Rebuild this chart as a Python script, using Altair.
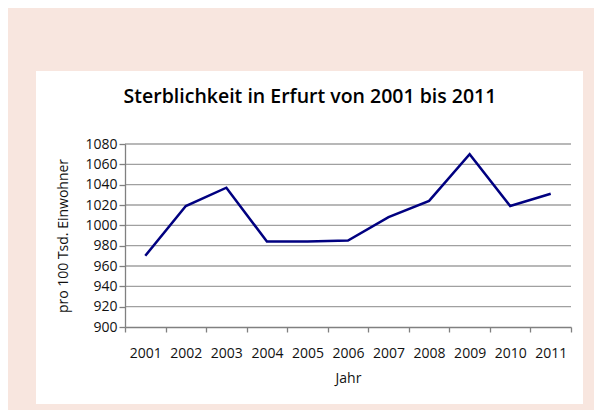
import altair as alt
import pandas as pd

years = ["2001", "2002", "2003", "2004", "2005", "2006", "2007", "2008", "2009", "2010", "2011"]
deaths = [970, 1019, 1037, 984, 984, 985, 1008, 1024, 1070, 1019, 1031]
y_ticks = [900, 920, 940, 960, 980, 1000, 1020, 1040, 1060, 1080]

df = pd.DataFrame({"Jahr": years, "Wert": deaths})
grid_df = pd.DataFrame({"Wert": y_ticks[1:]})

FONT = "Open Sans"
W, H = 446, 183

y_scale = alt.Scale(domain=[900, 1080], nice=False, zero=False)
y_axis = alt.Axis(
    title="pro 100 Tsd. Einwohner", values=y_ticks, grid=False, format="d",
    labelOverlap=False, tickSize=6, labelPadding=2, titlePadding=14, zindex=2,
)

panel = alt.Chart(alt.Data(values=[{"a": 1}])).mark_rect(color="white").encode(
    x=alt.value(-89), x2=alt.value(458), y=alt.value(-73), y2=alt.value(260)
)

grid = alt.Chart(grid_df).mark_rule(color="#a0a0a0", strokeWidth=1.3).encode(
    y=alt.Y("Wert:Q", scale=y_scale, axis=y_axis)
)

line = alt.Chart(df).mark_line(color="#000080", strokeWidth=2.5).encode(
    x=alt.X(
        "Jahr:O",
        sort=years,
        scale=alt.Scale(type="band", paddingInner=0, paddingOuter=0),
        axis=alt.Axis(
            title="Jahr", labelAngle=0, tickBand="extent", labelPadding=14,
            titlePadding=11, tickSize=5, zindex=2,
        ),
    ),
    y=alt.Y("Wert:Q", scale=y_scale, axis=y_axis),
)

chart = alt.layer(panel, grid, line).properties(
    width=W, height=H,
    title=alt.TitleParams(
        "Sterblichkeit in Erfurt von 2001 bis 2011",
        font=FONT, fontSize=19.5, fontWeight=600, color="#000000",
        anchor="middle", dx=-38, offset=-36, frame="group",
    ),
    padding={"left": 117, "top": 136, "right": 23, "bottom": 83},
    autosize=alt.AutoSizeParams(type="none"),
    background="#f8e6df",
).configure_view(stroke=None).configure_axis(
    labelFont=FONT, titleFont=FONT, labelFontSize=14, titleFontSize=14,
    labelColor="#111111", titleColor="#111111", titleFontWeight="normal",
    domainColor="#808080", tickColor="#808080", domainWidth=1.3, tickWidth=1.3,
)

chart.save("out.html", embed_options={"renderer": "svg", "actions": False})
